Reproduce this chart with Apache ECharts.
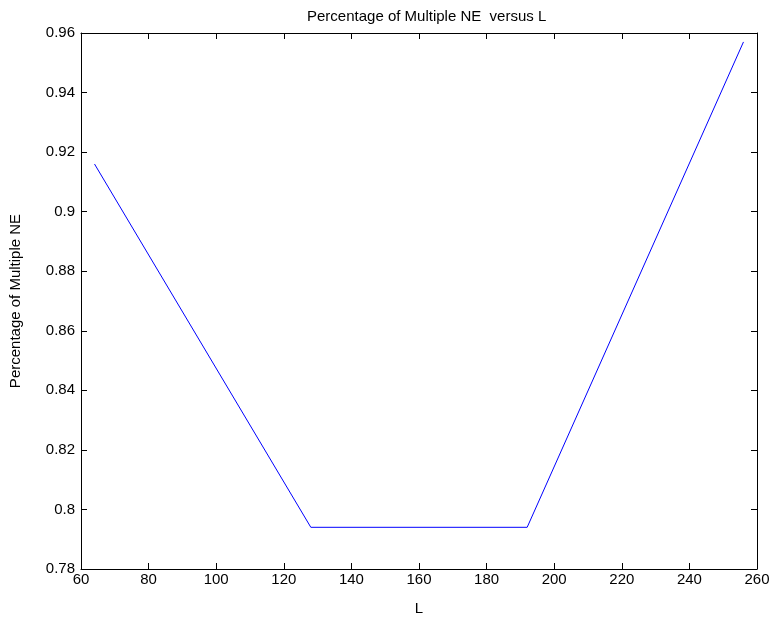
<!DOCTYPE html>
<html>
<head>
<meta charset="utf-8">
<script src="https://cdn.jsdelivr.net/npm/echarts@6/dist/echarts.min.js"></script>
<style>html,body{margin:0;padding:0;background:#fff;}#c{width:773px;height:622px;}</style>
</head>
<body>
<div id="c"></div>
<script>
var xValues = [64, 128, 192, 256];
var yValues = [0.916, 0.794, 0.794, 0.957];
var titleText = 'Percentage of Multiple NE  versus L';
var xLabel = 'L';
var yLabel = 'Percentage of Multiple NE';

var chart = echarts.init(document.getElementById('c'), null, {renderer: 'canvas'});
var font = 'Liberation Sans, Helvetica, Arial, sans-serif';
var fs = 15;
var lineStyle = {color: '#000', width: 1};
var baseX = {
  type: 'value', min: 60, max: 260, interval: 20,
  axisLine: {show: true, lineStyle: lineStyle},
  axisTick: {show: true, inside: true, length: 6, lineStyle: lineStyle},
  splitLine: {show: false}
};
var baseY = {
  type: 'value', min: 0.78, max: 0.96, interval: 0.02,
  axisLine: {show: true, lineStyle: lineStyle},
  axisTick: {show: true, inside: true, length: 6, lineStyle: lineStyle},
  splitLine: {show: false}
};
chart.setOption({
  animation: false,
  backgroundColor: '#fff',
  title: {
    text: titleText, left: 302, top: 4,
    textStyle: {fontFamily: font, fontSize: fs, fontWeight: 'normal', color: '#000'}
  },
  grid: {left: 78, right: 16, top: 33, bottom: 53},
  xAxis: [
    Object.assign({}, baseX, {
      position: 'bottom',
      name: xLabel, nameLocation: 'middle', nameGap: 32,
      nameTextStyle: {fontFamily: font, fontSize: fs, color: '#000'},
      axisLabel: {fontFamily: font, fontSize: fs, color: '#000', margin: 3,
        formatter: function (v) { return String(v); }}
    }),
    Object.assign({}, baseX, {position: 'top', axisLabel: {show: false}})
  ],
  yAxis: [
    Object.assign({}, baseY, {
      position: 'left',
      name: yLabel, nameLocation: 'middle', nameGap: 58,
      nameTextStyle: {fontFamily: font, fontSize: fs, color: '#000'},
      axisLabel: {fontFamily: font, fontSize: fs, color: '#000', margin: 6,
        formatter: function (v) { return parseFloat(v.toFixed(2)).toString(); }}
    }),
    Object.assign({}, baseY, {position: 'right', axisLabel: {show: false}})
  ],
  series: [{
    type: 'line',
    xAxisIndex: 0, yAxisIndex: 0,
    data: xValues.map(function (x, i) { return [x, yValues[i]]; }),
    symbol: 'none',
    lineStyle: {color: '#0000ff', width: 1}
  }]
});
</script>
</body>
</html>
